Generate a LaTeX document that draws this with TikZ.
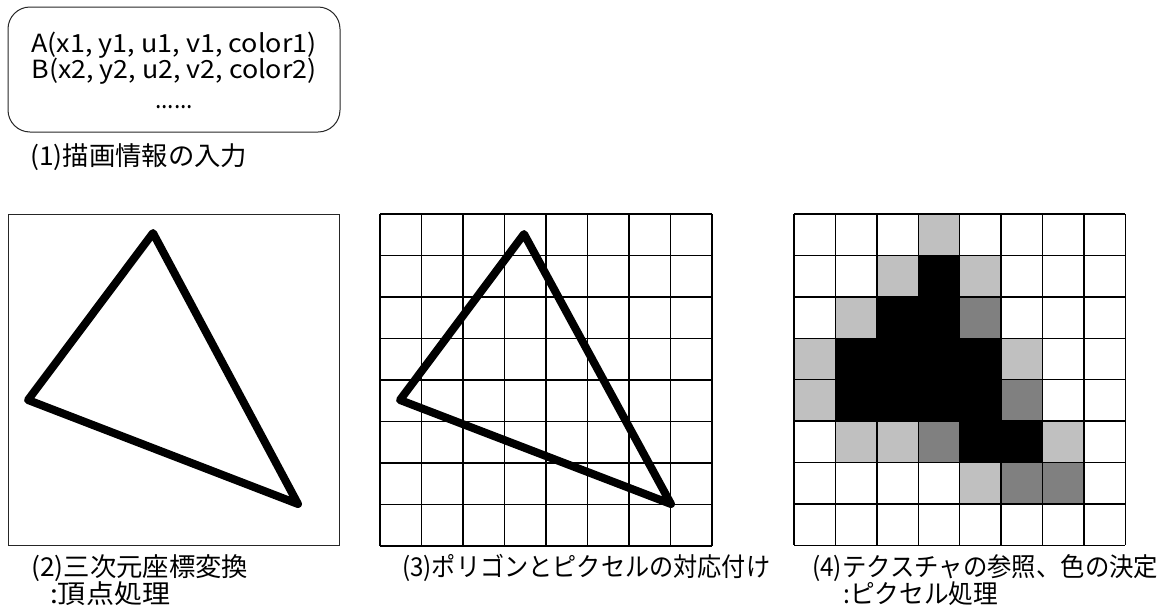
\documentclass[tikz,border=0pt]{standalone}
\usepackage{fontspec}
\setmainfont{Noto Sans CJK JP}
\usepackage{graphicx}
\definecolor{cellL}{HTML}{C0C0C0}
\definecolor{cellD}{HTML}{808080}
\newcommand{\fitw}[2]{\resizebox{#1}{\height}{#2}}
\begin{document}
\begin{tikzpicture}[x=1pt,y=-1pt,
  lbl/.style={anchor=west,inner sep=0pt,font=\fontsize{26}{30}\selectfont},
  boxtxt/.style={inner sep=0pt,font=\fontsize{25}{29}\selectfont},
  frame/.style={draw=black!85,line width=1pt},
  tri/.style={line width=8pt,line join=round,line cap=round},
  gridl/.style={line width=1.4pt,black}]
\useasboundingbox (0,0) rectangle (1165,611);
% (1) input box
\node[frame,rounded corners=22pt,minimum width=332pt,minimum height=125pt,inner sep=0pt] (inp) at (174,69.5) {};
\node[boxtxt] (ta) at (174,45) {\fitw{285pt}{A(x1, y1, u1, v1, color1)}};
\node[boxtxt] (tb) at (174,71) {\fitw{285pt}{B(x2, y2, u2, v2, color2)}};
\node[boxtxt,anchor=base] (td) at (174,108) {\fitw{38pt}{......}};
\node[lbl] (l1) at (30,157) {\fitw{217pt}{(1)描画情報の入力}};
% (2) frame with triangle
\node[frame,minimum width=331pt,minimum height=331pt,inner sep=0pt] (f2) at (173.5,379.5) {};
\coordinate (a2) at (153,233);
\coordinate (b2) at (28,400);
\coordinate (c2) at (298,504);
\draw[tri] (a2) -- (b2) -- (c2) -- cycle;
\node[lbl] (l2a) at (31,568) {\fitw{217pt}{(2)三次元座標変換}};
\node[lbl] (l2b) at (50,594) {\fitw{120pt}{:頂点処理}};
% (3) grid with triangle
\foreach \i in {0,...,8}{
  \draw[gridl] ({380+\i*41.5},214) -- ({380+\i*41.5},546);
  \draw[gridl] (380,{214+\i*41.5}) -- (712,{214+\i*41.5});
}
\node[inner sep=0pt,minimum width=332pt,minimum height=332pt] (g3) at (546,380) {};
\coordinate (a3) at (524,234);
\coordinate (b3) at (400,400);
\coordinate (c3) at (671,504);
\draw[tri] (a3) -- (b3) -- (c3) -- cycle;
\node[lbl] (l3) at (402,568) {\fitw{368pt}{(3)ポリゴンとピクセルの対応付け}};
% (4) shaded pixel grid
\foreach \r/\c/\col in {0/3/cellL,
  1/2/cellL,1/3/black,1/4/cellL,
  2/1/cellL,2/2/black,2/3/black,2/4/cellD,
  3/0/cellL,3/1/black,3/2/black,3/3/black,3/4/black,3/5/cellL,
  4/0/cellL,4/1/black,4/2/black,4/3/black,4/4/black,4/5/cellD,
  5/1/cellL,5/2/cellL,5/3/cellD,5/4/black,5/5/black,5/6/cellL,
  6/4/cellL,6/5/cellD,6/6/cellD}{
  \fill[\col] ({794+\c*41.4},{214+\r*41.4}) rectangle ++(41.4,41.4);
}
\foreach \i in {0,...,8}{
  \draw[gridl] ({794+\i*41.4},214) -- ({794+\i*41.4},545.2);
  \draw[gridl] (794,{214+\i*41.4}) -- (1125.2,{214+\i*41.4});
}
\node[inner sep=0pt,minimum width=331pt,minimum height=331pt] (g4) at (959.6,379.6) {};
\node[lbl] (l4a) at (812,568) {\fitw{346pt}{(4)テクスチャの参照、色の決定}};
\node[lbl] (l4b) at (843,594) {\fitw{155pt}{:ピクセル処理}};
\end{tikzpicture}
\end{document}
